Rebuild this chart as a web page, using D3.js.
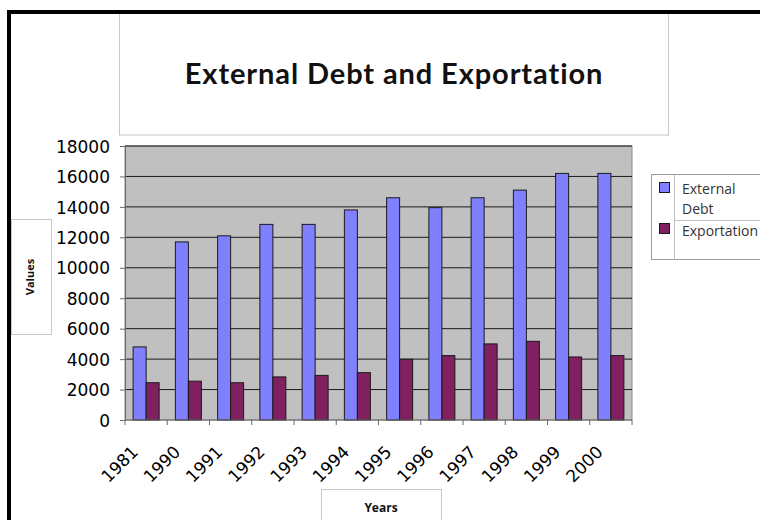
<!DOCTYPE html>
<html>
<head>
<meta charset="utf-8">
<script src="https://cdn.jsdelivr.net/npm/d3@7"></script>
<style>
    html, body { margin: 0; padding: 0; background: #fff; }
    svg { display: block; }
</style>
</head>
<body>
<div id="chart"></div>
<script>
    // chart data
    var years = ['1981', '1990', '1991', '1992', '1993', '1994', '1995', '1996', '1997', '1998', '1999', '2000'];
    var externalDebt = [4800, 11700, 12100, 12850, 12850, 13800, 14600, 13950, 14600, 15100, 16200, 16200];
    var exportation = [2450, 2550, 2450, 2830, 2930, 3110, 3990, 4230, 5000, 5170, 4140, 4230];
    var seriesNames = ['External Debt', 'Exportation'];
    var yTicks = [0, 2000, 4000, 6000, 8000, 10000, 12000, 14000, 16000, 18000];

    var colors = ['#8080ff', '#802060'];

    var svg = d3.select('#chart')
        .append('svg')
        .attr('width', 760)
        .attr('height', 520);

    // title box
    svg.append('rect')
        .attr('x', 119.5)
        .attr('y', 12)
        .attr('width', 549)
        .attr('height', 123)
        .style('fill', 'none')
        .style('stroke', '#c8c8c8');

    // outer black frame (only left and top are visible)
    svg.append('rect')
        .attr('x', 9)
        .attr('y', 12)
        .attr('width', 900)
        .attr('height', 700)
        .style('fill', 'none')
        .style('stroke', '#000')
        .style('stroke-width', 4);

    svg.append('text')
        .attr('x', 394)
        .attr('y', 84)
        .attr('text-anchor', 'middle')
        .style('font-family', 'Lato, "Open Sans", sans-serif')
        .style('font-weight', 'bold')
        .style('font-size', '29px')
        .style('letter-spacing', '0.9px')
        .style('fill', '#111')
        .text('External Debt and Exportation');

    var plot = {left: 125, right: 632, top: 146, bottom: 420};

    // scales
    var x0 = d3.scaleBand()
        .domain(years)
        .range([plot.left, plot.right])
        .padding(0);

    var x1 = d3.scaleBand()
        .domain(seriesNames)
        .range([0, x0.bandwidth()])
        .paddingInner(0)
        .paddingOuter(0.625);

    var y = d3.scaleLinear()
        .domain([0, 18000])
        .range([plot.bottom, plot.top]);

    // plot background
    svg.append('rect')
        .attr('x', plot.left)
        .attr('y', plot.top)
        .attr('width', plot.right - plot.left)
        .attr('height', plot.bottom - plot.top)
        .style('fill', '#c0c0c0')
        .style('stroke', '#8a8a8a');

    // gridlines
    svg.append('g')
        .selectAll('line')
        .data(yTicks.slice(1))
        .enter().append('line')
        .attr('x1', plot.left)
        .attr('x2', plot.right)
        .attr('y1', function (d) { return y(d); })
        .attr('y2', function (d) { return y(d); })
        .style('stroke', '#1a1a1a')
        .style('stroke-width', 1);

    // bars
    var rows = years.map(function (yr, i) {
        return {year: yr, values: [externalDebt[i], exportation[i]]};
    });

    var groups = svg.append('g')
        .selectAll('g')
        .data(rows)
        .enter().append('g')
        .attr('transform', function (d) { return 'translate(' + x0(d.year) + ',0)'; });

    groups.selectAll('rect')
        .data(function (d) {
            return d.values.map(function (v, j) { return {name: seriesNames[j], value: v, idx: j}; });
        })
        .enter().append('rect')
        .attr('x', function (d) { return x1(d.name); })
        .attr('y', function (d) { return y(d.value); })
        .attr('width', x1.bandwidth())
        .attr('height', function (d) { return plot.bottom - y(d.value); })
        .style('fill', function (d) { return colors[d.idx]; })
        .style('stroke', '#1a1a1a')
        .style('stroke-width', 1);

    // y axis
    var yAxis = svg.append('g')
        .attr('transform', 'translate(' + plot.left + ',0)')
        .call(d3.axisLeft(y).tickValues(yTicks).tickSize(5).tickPadding(10).tickFormat(d3.format('d')));
    yAxis.select('.domain').style('stroke', '#6a6a6a');
    yAxis.selectAll('.tick line').style('stroke', '#6a6a6a');
    yAxis.selectAll('text')
        .style('font-family', '"DejaVu Sans", sans-serif')
        .style('font-size', '17px')
        .style('fill', '#000')
        .attr('dy', '0.36em');

    // x axis with ticks on category boundaries
    var xAxis = svg.append('g')
        .attr('transform', 'translate(0,' + plot.bottom + ')');
    xAxis.append('line')
        .attr('x1', plot.left)
        .attr('x2', plot.right)
        .style('stroke', '#6a6a6a');
    xAxis.selectAll('.bound')
        .data(years.concat(['end']))
        .enter().append('line')
        .attr('class', 'bound')
        .attr('x1', function (d, i) { return plot.left + i * x0.step(); })
        .attr('x2', function (d, i) { return plot.left + i * x0.step(); })
        .attr('y1', 0)
        .attr('y2', 5)
        .style('stroke', '#6a6a6a');
    xAxis.selectAll('.lbl')
        .data(years)
        .enter().append('text')
        .attr('class', 'lbl')
        .attr('text-anchor', 'end')
        .attr('transform', function (d) {
            return 'translate(' + (x0(d) + x0.bandwidth() / 2 - 7) + ',33) rotate(-45)';
        })
        .style('font-family', '"DejaVu Sans", sans-serif')
        .style('font-size', '17px')
        .style('fill', '#000')
        .text(function (d) { return d; });

    // axis title boxes
    svg.append('rect')
        .attr('x', 11.5)
        .attr('y', 219.5)
        .attr('width', 40)
        .attr('height', 115)
        .style('fill', '#fff')
        .style('stroke', '#c8c8c8');
    svg.append('text')
        .attr('transform', 'translate(34,277) rotate(-90)')
        .attr('text-anchor', 'middle')
        .style('font-family', '"Open Sans", sans-serif')
        .style('font-weight', 'bold')
        .style('font-size', '11px')
        .style('fill', '#111')
        .text('Values');

    svg.append('rect')
        .attr('x', 321.5)
        .attr('y', 489.5)
        .attr('width', 120)
        .attr('height', 60)
        .style('fill', '#fff')
        .style('stroke', '#c8c8c8');
    svg.append('text')
        .attr('x', 381)
        .attr('y', 512)
        .attr('text-anchor', 'middle')
        .style('font-family', '"Open Sans", sans-serif')
        .style('font-weight', 'bold')
        .style('font-size', '12px')
        .style('fill', '#111')
        .text('Years');

    // legend
    var legend = svg.append('g');
    legend.append('rect')
        .attr('x', 651.5)
        .attr('y', 174.5)
        .attr('width', 140)
        .attr('height', 85)
        .style('fill', '#fff')
        .style('stroke', '#9a9a9a');
    legend.append('line')
        .attr('x1', 674.5).attr('x2', 674.5)
        .attr('y1', 174.5).attr('y2', 259.5)
        .style('stroke', '#c0c0c0');
    legend.append('line')
        .attr('x1', 674.5).attr('x2', 791)
        .attr('y1', 220.5).attr('y2', 220.5)
        .style('stroke', '#c0c0c0');

    legend.selectAll('.swatch')
        .data(seriesNames)
        .enter().append('rect')
        .attr('class', 'swatch')
        .attr('x', 659.5)
        .attr('y', function (d, i) { return i === 0 ? 182.5 : 223.5; })
        .attr('width', 10)
        .attr('height', 10)
        .style('fill', function (d, i) { return colors[i]; })
        .style('stroke', '#1a1a1a');

    var legendLines = [['External', 194], ['Debt', 214], ['Exportation', 236]];
    legend.selectAll('.ltext')
        .data(legendLines)
        .enter().append('text')
        .attr('class', 'ltext')
        .attr('x', 682)
        .attr('y', function (d) { return d[1]; })
        .style('font-family', '"Open Sans", sans-serif')
        .style('font-size', '14px')
        .style('fill', '#333')
        .text(function (d) { return d[0]; });
</script>
</body>
</html>
